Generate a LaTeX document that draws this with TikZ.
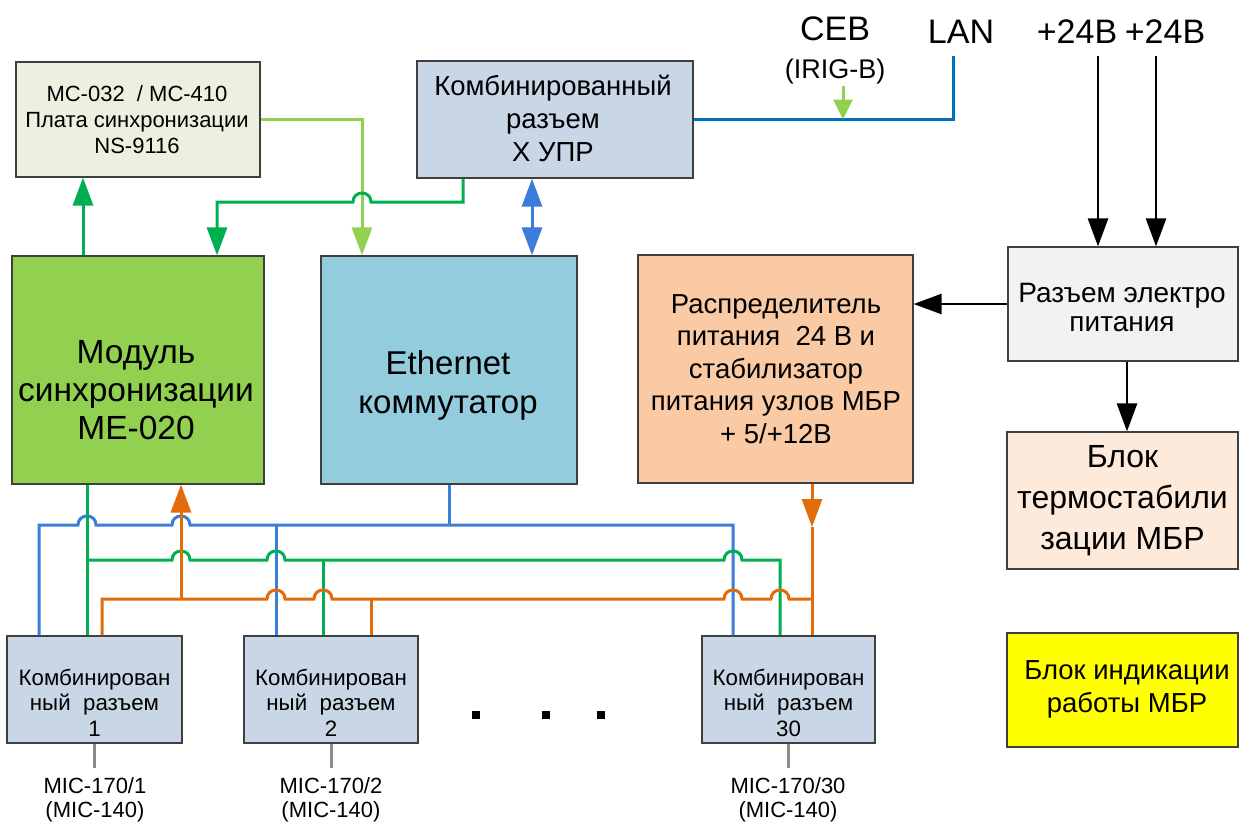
\documentclass[tikz,border=0pt]{standalone}
\usepackage{fontspec}
\setmainfont{Liberation Sans}
\usetikzlibrary{arrows.meta}
\definecolor{bordc}{HTML}{3F3F3F}
\definecolor{mcfill}{HTML}{EBF1DE}
\definecolor{uprfill}{HTML}{C9D6E6}
\definecolor{modfill}{HTML}{92D050}
\definecolor{ethfill}{HTML}{93CDDD}
\definecolor{distfill}{HTML}{F9CAA4}
\definecolor{rpowfill}{HTML}{F2F2F2}
\definecolor{thermfill}{HTML}{FDEADA}
\definecolor{indfill}{HTML}{FFFF00}
\definecolor{cgD}{HTML}{00B050}
\definecolor{cgL}{HTML}{92D050}
\definecolor{cbB}{HTML}{3B7DD8}
\definecolor{cbL}{HTML}{0070C0}
\definecolor{coR}{HTML}{E26B0A}
\definecolor{cgry}{HTML}{8C8C8C}
\newcommand\myfs[2]{\fontsize{#1}{#2}\selectfont}
\tikzset{
  box/.style={draw=bordc, line width=1.2pt, inner sep=0pt},
  txt/.style={align=center, inner sep=0pt},
  arr/.style={-{Triangle[length=28pt,width=20pt]}},
  arrs/.style={-{Triangle[length=20pt,width=19pt]}},
  arrd/.style={{Triangle[length=28pt,width=20pt]}-{Triangle[length=28pt,width=20pt]}},
  gD/.style={draw=cgD, line width=3pt},
  gL/.style={draw=cgL, line width=3pt},
  bB/.style={draw=cbB, line width=3pt},
  bL/.style={draw=cbL, line width=3pt},
  oR/.style={draw=coR, line width=3pt},
  blk/.style={draw=black, line width=2.6pt, -{Triangle[length=28pt,width=20pt]}},
  gry/.style={draw=cgry, line width=3pt},
}
\begin{document}
\begin{tikzpicture}[x=1pt,y=-1pt]
\useasboundingbox (0,0) rectangle (1239,823);

% boxes
\node[box, fill=mcfill, minimum width=244pt, minimum height=115pt] (mc) at (138,119.5) {};
\node[txt, font=\myfs{22}{26}] (mct) at (137,120) {MC-032\ \ / MC-410\\Плата синхронизации\\NS-9116};

\node[box, fill=uprfill, minimum width=276pt, minimum height=117pt] (xupr) at (555,119.5) {};
\node[txt, font=\myfs{27.5}{33}] (xuprt) at (553,118) {Комбинированный\\разъем\\Х УПР};

\node[box, fill=modfill, minimum width=252pt, minimum height=228pt] (mod) at (138,370) {};
\node[txt, font=\myfs{33.5}{38}] (modt) at (136,390) {Модуль\\синхронизации\\МЕ-020};

\node[box, fill=ethfill, minimum width=256pt, minimum height=228pt] (eth) at (449,370) {};
\node[txt, font=\myfs{33}{39}] (etht) at (448,385.5) {Ethernet\\коммутатор};

\node[box, fill=distfill, minimum width=275pt, minimum height=228pt] (dist) at (775.5,369) {};
\node[txt, font=\myfs{27.5}{32.5}] (distt) at (776,369) {Распределитель\\питания\ \ 24 В и\\стабилизатор\\питания узлов МБР\\+ 5/+12В};

\node[box, fill=rpowfill, minimum width=230pt, minimum height=114pt] (rpow) at (1123,304) {};
\node[txt, font=\myfs{28}{29}] (rpowt) at (1122,307.5) {Разъем электро\\питания};

\node[box, fill=thermfill, minimum width=231pt, minimum height=137pt] (therm) at (1122.5,500.5) {};
\node[txt, font=\myfs{32}{41}] (thermt) at (1122.5,501) {Блок\\термостабили\\зации МБР};

\node[box, fill=indfill, minimum width=231pt, minimum height=114pt] (ind) at (1122.5,690) {};
\node[txt, font=\myfs{27.5}{33}] (indt) at (1127,689.5) {Блок индикации\\работы МБР};

\node[box, fill=uprfill, minimum width=175pt, minimum height=107pt] (c1) at (94.5,689.5) {};
\node[txt, font=\myfs{22.3}{25.5}] (c1t) at (94.5,702.5) {Комбинирован\\ный\ \ разъем\\1};
\node[box, fill=uprfill, minimum width=174pt, minimum height=107pt] (c2) at (331,689.5) {};
\node[txt, font=\myfs{22.3}{25.5}] (c2t) at (331,702.5) {Комбинирован\\ный\ \ разъем\\2};
\node[box, fill=uprfill, minimum width=173pt, minimum height=107pt] (c30) at (788.5,689.5) {};
\node[txt, font=\myfs{22.3}{25.5}] (c30t) at (788.5,702.5) {Комбинирован\\ный\ \ разъем\\30};

% top labels
\node[txt, font=\myfs{34}{38}] (ceb) at (835,29) {СЕВ};
\node[txt, font=\myfs{27}{30}] (irigt) at (835,72) {(IRIG-B)};
\node[txt, font=\myfs{34}{38}] (lant) at (961,32) {LAN};
\node[txt, font=\myfs{34}{38}] (p24a) at (1077,32) {+24В};
\node[txt, font=\myfs{34}{38}] (p24b) at (1165,32) {+24В};

% bottom labels
\node[txt, font=\myfs{22}{24}] (m1) at (95,800) {MIC-170/1\\(MIC-140)};
\node[txt, font=\myfs{22}{24}] (m2) at (331,800) {MIC-170/2\\(MIC-140)};
\node[txt, font=\myfs{22}{24}] (m30) at (788,800) {MIC-170/30\\(MIC-140)};

\coordinate (lan) at (953,56);
\coordinate (irig) at (843,86);
\coordinate (irige) at (843,119.5);
\coordinate (v1) at (1098,56);
\coordinate (v2) at (1156,56);

% top connectors
\draw[gD,arr] (83,0 |- mod.north) -- (83,0 |- mc.south);
\draw[gL,arr] (mc.east) -| (362,0 |- eth.north);
\draw[gD,arr] (463,0 |- xupr.south) -- (463,202) -- (371,202) .. controls (371,190) and (353,190) .. (353,202) -- (217,202) -- (217,0 |- mod.north);
\draw[bB,arrd] (532,0 |- xupr.south) -- (532,0 |- eth.north);
\draw[bL] (xupr.east) -| (lan);
\draw[gL,arrs] (irig) -- (irige);

\draw[blk] (v1) -- (1098,0 |- rpow.north);
\draw[blk] (v2) -- (1156,0 |- rpow.north);
\draw[blk] (rpow.west |- 0,304) -- (dist.east |- 0,304);
\draw[blk] (1127,0 |- rpow.south) -- (1127,0 |- therm.north);

% bottom bus: blue
\draw[bB] (eth.south) -- (449,525);
\draw[bB] (39,0 |- c1.north) -- (39,525) -- (78,525) .. controls (78,513) and (96,513) .. (96,525) -- (172,525) .. controls (172,513) and (190,513) .. (190,525) -- (733,525) -- (733,0 |- c30.north);
\draw[bB] (276,525) -- (276,0 |- c2.north);
% green
\draw[gD] (87,0 |- mod.south) -- (87,0 |- c1.north);
\draw[gD] (87,560) -- (172,560) .. controls (172,548) and (190,548) .. (190,560) -- (267,560) .. controls (267,548) and (285,548) .. (285,560) -- (724,560) .. controls (724,548) and (742,548) .. (742,560) -- (780,560) -- (780,0 |- c30.north);
\draw[gD] (323,560) -- (323,0 |- c2.north);
% orange
\draw[oR] (102,0 |- c1.north) -- (102,599) -- (267,599) .. controls (267,587) and (285,587) .. (285,599) -- (314,599) .. controls (314,587) and (332,587) .. (332,599) -- (724,599) .. controls (724,587) and (742,587) .. (742,599) -- (771,599) .. controls (771,587) and (789,587) .. (789,599) -- (812,599);
\draw[oR,arr] (181,599) -- (181,0 |- mod.south);
\draw[oR] (371,599) -- (371,0 |- c2.north);
\draw[oR,arr] (812,0 |- dist.south) -- (812,527);
\draw[oR] (812,527) -- (812,0 |- c30.north);

% grey leads
\draw[gry] (c1.south) -- ++(0,24);
\draw[gry] (c2.south) -- ++(0,24);
\draw[gry] (c30.south) -- ++(0,24);

% dots
\fill (472,711) rectangle ++(8,8);
\fill (542,711) rectangle ++(8,8);
\fill (597,711) rectangle ++(8,8);
\end{tikzpicture}
\end{document}
